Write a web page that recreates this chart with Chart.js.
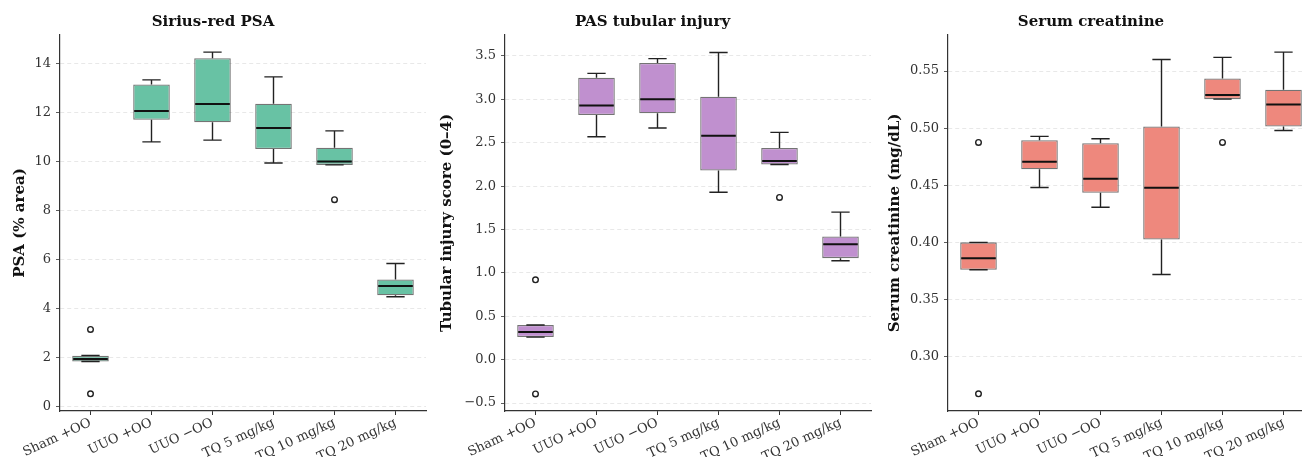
<!DOCTYPE html>
<html>
<head>
<meta charset="utf-8">
<script src="https://cdn.jsdelivr.net/npm/chart.js@4/dist/chart.umd.min.js"></script>
<style>
  body { margin: 0; background: #fff; }
  #wrap { position: relative; width: 1302px; height: 457px; overflow: hidden; }
  canvas { position: absolute; top: 0; }
</style>
</head>
<body>
<div id="wrap">
  <canvas id="psa" width="434" height="457" style="left:0px"></canvas>
  <canvas id="pas" width="445" height="457" style="left:434px"></canvas>
  <canvas id="scr" width="454" height="457" style="left:868px"></canvas>
</div>
<script>
const groups = ["Sham +OO", "UUO +OO", "UUO \u2212OO", "TQ 5 mg/kg", "TQ 10 mg/kg", "TQ 20 mg/kg"];

// Sirius-red PSA (% area)
const psaQ1 = [1.83, 11.69, 11.59, 10.5, 9.85, 4.53];
const psaMedian = [1.93, 12.05, 12.33, 11.36, 9.99, 4.91];
const psaQ3 = [2.06, 13.13, 14.2, 12.35, 10.55, 5.18];
const psaLow = [1.83, 10.79, 10.86, 9.93, 9.85, 4.47];
const psaHigh = [2.08, 13.32, 14.45, 13.44, 11.24, 5.83];
const psaOutliers = [["Sham +OO", 3.14], ["Sham +OO", 0.51], ["TQ 10 mg/kg", 8.43]];

// PAS tubular injury score (0-4)
const pasQ1 = [0.26, 2.82, 2.84, 2.18, 2.25, 1.17];
const pasMedian = [0.32, 2.93, 3.0, 2.58, 2.29, 1.33];
const pasQ3 = [0.40, 3.25, 3.42, 3.03, 2.44, 1.42];
const pasLow = [0.26, 2.57, 2.67, 1.93, 2.25, 1.14];
const pasHigh = [0.40, 3.30, 3.47, 3.54, 2.62, 1.70];
const pasOutliers = [["Sham +OO", 0.92], ["Sham +OO", -0.395], ["TQ 10 mg/kg", 1.87]];

// Serum creatinine (mg/dL)
const scrQ1 = [0.376, 0.464, 0.4434, 0.4025, 0.5254, 0.5015];
const scrMedian = [0.386, 0.4706, 0.4557, 0.4478, 0.529, 0.5208];
const scrQ3 = [0.400, 0.4895, 0.4869, 0.5015, 0.5436, 0.5337];
const scrLow = [0.376, 0.448, 0.4308, 0.3718, 0.5254, 0.498];
const scrHigh = [0.400, 0.4928, 0.4907, 0.5602, 0.562, 0.5666];
const scrOutliers = [["Sham +OO", 0.4875], ["Sham +OO", 0.2673], ["TQ 10 mg/kg", 0.4875]];

Chart.defaults.font.family = "'DejaVu Serif', serif";
Chart.defaults.font.size = 13;
Chart.defaults.color = "#333";

// whiskers, caps and medians, placed with the chart's own scales
const whiskerPlugin = {
  id: "whiskers",
  afterDatasetsDraw(chart) {
    const ds = chart.data.datasets[0];
    const meta = chart.getDatasetMeta(0);
    const y = chart.scales.y;
    const ctx = chart.ctx;
    ctx.save();
    meta.data.forEach((bar, i) => {
      const cx = bar.x;
      const half = bar.width / 2;
      const yq1 = y.getPixelForValue(ds.data[i][0]);
      const yq3 = y.getPixelForValue(ds.data[i][1]);
      const ylo = y.getPixelForValue(ds.low[i]);
      const yhi = y.getPixelForValue(ds.high[i]);
      ctx.strokeStyle = "#222";
      ctx.lineWidth = 1.4;
      ctx.beginPath();
      ctx.moveTo(cx, yq3); ctx.lineTo(cx, yhi);
      ctx.moveTo(cx, yq1); ctx.lineTo(cx, ylo);
      ctx.moveTo(cx - half / 2, yhi); ctx.lineTo(cx + half / 2, yhi);
      ctx.moveTo(cx - half / 2, ylo); ctx.lineTo(cx + half / 2, ylo);
      ctx.stroke();
      const ym = y.getPixelForValue(ds.median[i]);
      ctx.strokeStyle = "#111";
      ctx.lineWidth = 2;
      ctx.beginPath();
      ctx.moveTo(cx - half + 1, ym); ctx.lineTo(cx + half - 1, ym);
      ctx.stroke();
    });
    ctx.restore();
  },
};

function makePanel(id, title, yTitle, q1, med, q3, low, high, outliers, color, yMin, yMax, step, decimals, axisWidth, titlePad) {
  new Chart(document.getElementById(id), {
    type: "bar",
    data: {
      labels: groups,
      datasets: [
        {
          data: q1.map((v, i) => [v, q3[i]]),
          median: med,
          low: low,
          high: high,
          backgroundColor: color,
          borderColor: "rgba(70,70,70,0.75)",
          borderWidth: 1.3,
          borderSkipped: false,
          barPercentage: 0.6,
          categoryPercentage: 1,
          order: 2,
        },
        {
          type: "scatter",
          data: outliers.map((o) => ({ x: o[0], y: o[1] })),
          pointStyle: "circle",
          pointRadius: 2.8,
          pointBorderWidth: 1.4,
          pointBorderColor: "#222",
          pointBackgroundColor: "rgba(255,255,255,0)",
          order: 1,
        },
      ],
    },
    options: {
      responsive: false,
      animation: false,
      layout: { padding: { left: 0, right: 8, top: 0, bottom: 0 } },
      plugins: {
        legend: { display: false },
        tooltip: { enabled: false },
        title: {
          display: true,
          text: title,
          color: "#111",
          font: { size: 15, weight: "bold" },
          padding: { top: 13, bottom: 4 },
        },
      },
      scales: {
        x: {
          offset: true,
          grid: {
            display: true,
            drawOnChartArea: false,
            drawTicks: true,
            tickLength: 4,
            tickColor: "#333",
            offset: false,
          },
          border: { display: true, color: "#333", width: 1.2 },
          ticks: { minRotation: 25, maxRotation: 25, padding: 0, color: "#333" },
          afterFit: (s) => { s.height = 46; },
        },
        y: {
          min: yMin,
          max: yMax,
          grid: {
            color: "#e2e2e2",
            lineWidth: 0.8,
            drawTicks: true,
            tickLength: 4,
            tickColor: "#333",
            tickBorderDash: [],
          },
          border: { display: true, color: "#333", width: 1.2, dash: [4, 3] },
          ticks: {
            stepSize: step,
            includeBounds: false,
            padding: 5,
            color: "#333",
            callback: (v) => Number(v).toFixed(decimals).replace("-", "\u2212"),
          },
          title: {
            display: true,
            text: yTitle,
            color: "#111",
            font: { size: 15, weight: "bold" },
            padding: { top: titlePad, bottom: 0 },
          },
          afterFit: (s) => { s.width = axisWidth; },
        },
      },
    },
    plugins: [whiskerPlugin],
  });
}

makePanel("psa", "Sirius-red PSA", "PSA (% area)", psaQ1, psaMedian, psaQ3, psaLow, psaHigh, psaOutliers,
  "#68c2a4", -0.19, 15.15, 2, 0, 60, 11);
makePanel("pas", "PAS tubular injury", "Tubular injury score (0\u20134)", pasQ1, pasMedian, pasQ3, pasLow, pasHigh, pasOutliers,
  "#c090cf", -0.592, 3.742, 0.5, 1, 71, 4);
makePanel("scr", "Serum creatinine", "Serum creatinine (mg/dL)", scrQ1, scrMedian, scrQ3, scrLow, scrHigh, scrOutliers,
  "#ee887d", 0.2523, 0.5816, 0.05, 2, 80, 18);
</script>
</body>
</html>
